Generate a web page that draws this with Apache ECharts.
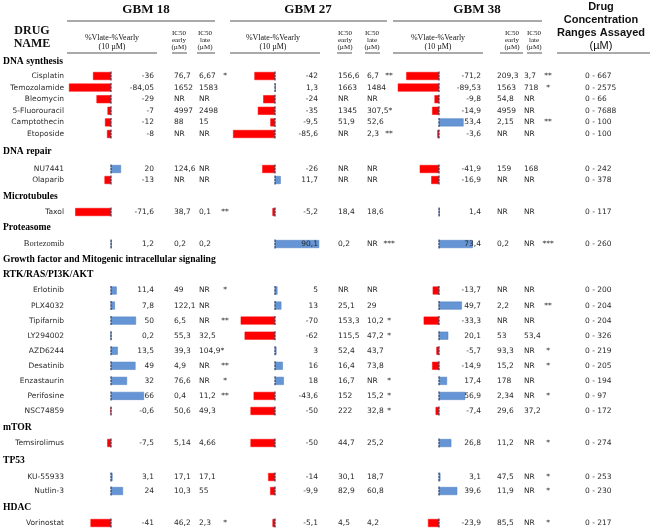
<!DOCTYPE html>
<html><head><meta charset="utf-8">
<script src="https://cdn.jsdelivr.net/npm/echarts@6/dist/echarts.min.js"></script>
<style>html,body{margin:0;padding:0;background:#fff}#c{width:650px;height:528px}</style>
</head><body><div id="c"></div>
<script>
// ---------- DATA ----------
const sectionTitles = [['DNA synthesis'],['DNA repair'],['Microtubules'],['Proteasome'],
  ['Growth factor and Mitogenic intracellular signaling','RTK/RAS/PI3K/AKT'],['mTOR'],['TP53'],['HDAC']];
const sectionSizes = [6,2,1,1,9,1,2,1];
const drugs = ['Cisplatin','Temozolamide','Bleomycin','5-Fluorouracil','Camptothecin','Etoposide',
  'NU7441','Olaparib','Taxol','Bortezomib',
  'Erlotinib','PLX4032','Tipifarnib','LY294002','AZD6244','Desatinib','Enzastaurin','Perifosine','NSC74859',
  'Temsirolimus','KU-55933','Nutlin-3','Vorinostat'];
const serifNames = ['Bortezomib'];

const gbm18Delta = [-36,-84.05,-29,-7,-12,-8, 20,-13, -71.6, 1.2, 11.4,7.8,50,0.2,13.5,49,32,66,-0.6, -7.5, 3.1,24, -41];
const gbm18Early = ['76,7','1652','NR','4997','88','NR','124,6','NR','38,7','0,2','49','122,1','6,5','55,3','39,3','4,9','76,6','0,4','50,6','5,14','17,1','10,3','46,2'];
const gbm18Late  = ['6,67','1583','NR','2498','15','NR','NR','NR','0,1','0,2','NR','NR','NR','32,5','104,9*','NR','NR','11,2','49,3','4,66','17,1','55','2,3'];
const gbm18Sig   = ['*','','','','','','','','**','','*','','**','','','**','*','**','','','','','*'];

const gbm27Delta = [-42,1.3,-24,-35,-9.5,-85.6, -26,11.7, -5.2, 90.1, 5,13,-70,-62,3,16,18,-43.6,-50, -50, -14,-9.9, -5.1];
const gbm27Early = ['156,6','1663','NR','1345','51,9','NR','NR','NR','18,4','0,2','NR','25,1','153,3','115,5','52,4','16,4','16,7','152','222','44,7','30,1','82,9','4,5'];
const gbm27Late  = ['6,7','1484','NR','307,5*','52,6','2,3','NR','NR','18,6','NR','NR','29','10,2','47,2','43,7','73,8','NR','15,2','32,8','25,2','18,7','60,8','4,2'];
const gbm27Sig   = ['**','','','','','**','','','','***','','','*','*','','','*','*','*','','','',''];

const gbm38Delta = [-71.2,-89.53,-9.8,-14.9,53.4,-3.6, -41.9,-16.9, 1.4, 73.4, -13.7,49.7,-33.3,20.1,-5.7,-14.9,17.4,56.9,-7.4, 26.8, 3.1,39.6, -23.9];
const gbm38Early = ['209,3','1563','54,8','4959','2,15','NR','159','NR','NR','0,2','NR','2,2','NR','53','93,3','15,2','178','2,34','29,6','11,2','47,5','11,9','85,5'];
const gbm38Late  = ['3,7','718','NR','NR','NR','NR','168','NR','NR','NR','NR','NR','NR','53,4','NR','NR','NR','NR','37,2','NR','NR','NR','NR'];
const gbm38Sig   = ['**','*','','','**','','','','','***','','**','','','*','*','','*','','*','*','*','*'];

const concRange = ['0 - 667','0 - 2575','0 - 66','0 - 7688','0 - 100','0 - 100','0 - 242','0 - 378','0 - 117','0 - 260',
  '0 - 200','0 - 204','0 - 204','0 - 326','0 - 219','0 - 205','0 - 194','0 - 97','0 - 172','0 - 274','0 - 253','0 - 230','0 - 217'];

// ---------- LAYOUT (positions / styles only) ----------
const W = 650;
const sectionLayout = [
  {heads:[62], first:76, band:11.6},
  {heads:[152], first:169, band:11},
  {heads:[197], first:212, band:15},
  {heads:[228], first:244, band:15},
  {heads:[260,275], first:290.5, band:15.06},
  {heads:[428], first:443, band:15},
  {heads:[461], first:477, band:14},
  {heads:[508], first:523, band:15}
];
const gbms = [
  {delta:gbm18Delta, early:gbm18Early, late:gbm18Late, sig:gbm18Sig, zero:111, scale:0.5,  valX:154, earlyX:174, lateX:199, sigX:225},
  {delta:gbm27Delta, early:gbm27Early, late:gbm27Late, sig:gbm27Sig, zero:275, scale:0.49, valX:318, earlyX:338, lateX:367, sigX:389},
  {delta:gbm38Delta, early:gbm38Early, late:gbm38Late, sig:gbm38Sig, zero:439, scale:0.46, valX:481, earlyX:497, lateX:524, sigX:548}
];
const nameX = 64, rangeX = 585;
const RED = '#ff0000', BLUE = '#6595d4';
const txtFont = 'DejaVu Sans', serif = 'Liberation Serif';

const fmtNum = v => String(v).replace('.', ',');

const grids = [], xAxes = [], yAxes = [], series = [], graphics = [];
let start = 0;
sectionSizes.forEach((n, g) => {
  const L = sectionLayout[g];
  const idx = [];
  for (let i = 0; i < n; i++) idx.push(start + i);
  grids.push({left:0, width:W, top:L.first - L.band/2, height:L.band*n, containLabel:false, outerBoundsMode:'none'});
  const cats = idx.map(i => drugs[i]);
  const mkY = (x, align, fmt, extra) => {
    yAxes.push(Object.assign({
      type:'category', gridIndex:g, inverse:true, data:cats, position:'left', offset:-x, z:10,
      axisLine:{show:false, onZero:false}, axisTick:{show:false}, splitLine:{show:false},
      axisLabel:{interval:0, margin:0, align:align, fontSize:7.5, fontFamily:txtFont, color:'#2b2b2b',
        formatter:(v, j) => fmt(idx[j])}
    }, extra || {}));
    return yAxes.length - 1;
  };
  mkY(nameX, 'right', i => drugs[i],
    {axisLabel:{interval:0, margin:0, align:'right', fontSize:7.5, fontFamily:txtFont, color:'#2b2b2b',
      formatter:(v)=> serifNames.includes(v) ? '{s|' + v + '}' : v,
      rich:{s:{fontFamily:serif, fontSize:8.5, color:'#2b2b2b'}}}});
  gbms.forEach((G, k) => {
    const xi = xAxes.length;
    xAxes.push({type:'value', gridIndex:g, show:false, min:-G.zero / G.scale, max:(W - G.zero) / G.scale,
      splitLine:{show:false}, axisLine:{show:false}});
    const base = mkY(G.valX, 'right', i => fmtNum(G.delta[i]));
    mkY(G.earlyX, 'left', i => G.early[i]);
    mkY(G.lateX, 'left', i => G.late[i]);
    mkY(G.sigX, 'center', i => G.sig[i]);
    series.push({
      type:'bar', xAxisIndex:xi, yAxisIndex:base, barWidth:8, silent:true, z:1,
      data: idx.map(i => ({value:G.delta[i], itemStyle:{color: G.delta[i] < 0 ? RED : BLUE,
        borderColor: G.delta[i] < 0 ? RED : '#4f7cc0', borderWidth:0.5}}))
    });
    series.push({
      type:'scatter', xAxisIndex:xi, yAxisIndex:base, silent:true, z:2,
      symbol:'path://M0,0h2v3h-2zM0,4h2v3h-2zM0,8h2v3h-2z', symbolSize:[1.3, 9],
      itemStyle:{color:'#1c2f55'},
      data: idx.map(() => 0)
    });
  });
  mkY(rangeX, 'left', i => concRange[i]);
  sectionTitles[g].forEach((t, h) => {
    graphics.push({type:'text', style:{text:t, x:3, y:L.heads[h], fill:'#000',
      font:'bold 9.6px "' + serif + '"', align:'left', verticalAlign:'middle', textAlign:'left', textVerticalAlign:'middle'}});
  });
  start += n;
});

// ---------- HEADER ----------
const T = (text, x, y, font, align) => graphics.push({type:'text', style:{text, x, y, fill:'#111', font,
  align:align||'center', verticalAlign:'middle', textAlign:align||'center', textVerticalAlign:'middle'}});
const Ln = (x1, x2, y) => graphics.push({type:'line', shape:{x1, y1:y, x2, y2:y}, style:{stroke:'#555', lineWidth:1}});

T('DRUG', 32, 31, 'bold 12px "Liberation Serif"');
T('NAME', 32, 44, 'bold 12px "Liberation Serif"');
[['GBM 18',146,[67,215]],['GBM 27',308,[230,387]],['GBM 38',477,[393,542]]].forEach(h => {
  T(h[0], h[1], 10, 'bold 13px "Liberation Serif"'); Ln(h[2][0], h[2][1], 21);
});
const subs = [
  {v:112, vl:[67,157], e:179, el:[172,187], l:205, ll:[197,215]},
  {v:273, vl:[230,320], e:345, el:[337,352], l:372, ll:[365,380]},
  {v:438, vl:[393,483], e:512, el:[500,523], l:534, ll:[527,542]}
];
subs.forEach(s => {
  T('%Vlate-%Vearly', s.v, 38, '8px "Liberation Serif"');
  T('(10 \u00b5M)', s.v, 47, '8px "Liberation Serif"');
  Ln(s.vl[0], s.vl[1], 53);
  T('IC50', s.e, 33, '7px "Liberation Serif"'); T('early', s.e, 40, '7px "Liberation Serif"'); T('(\u00b5M)', s.e, 47, '7px "Liberation Serif"');
  T('IC50', s.l, 33, '7px "Liberation Serif"'); T('late', s.l, 40, '7px "Liberation Serif"'); T('(\u00b5M)', s.l, 47, '7px "Liberation Serif"');
  Ln(s.el[0], s.el[1], 53); Ln(s.ll[0], s.ll[1], 53);
});
T('Drug', 601, 7, 'bold 11px "Liberation Sans"');
T('Concentration', 601, 20, 'bold 11px "Liberation Sans"');
T('Ranges Assayed', 601, 33, 'bold 11px "Liberation Sans"');
T('(\u00b5M)', 601, 46, '11px "Liberation Sans"');
Ln(557, 650, 53);

const chart = echarts.init(document.getElementById('c'), null, {renderer:'canvas'});
chart.setOption({
  animation:false,
  backgroundColor:'#fff',
  grid:grids, xAxis:xAxes, yAxis:yAxes, series:series, graphic:{elements:graphics}
});
</script></body></html>
